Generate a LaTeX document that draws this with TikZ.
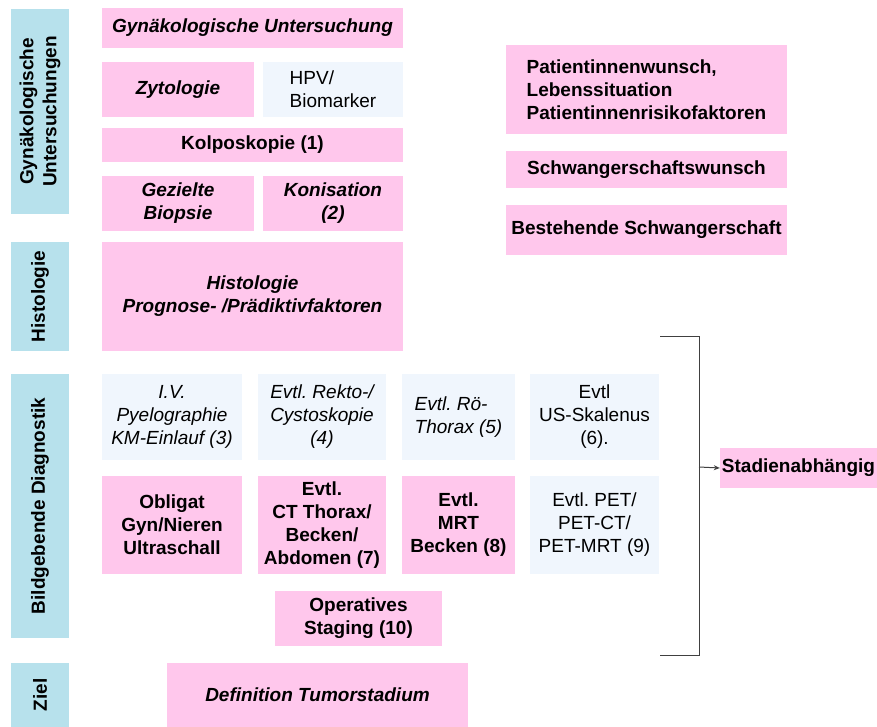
\documentclass[tikz,border=0pt]{standalone}
\usepackage{fontspec}
\setmainfont{Liberation Sans}
\usetikzlibrary{arrows.meta}

\definecolor{boxpink}{RGB}{255,199,236}
\definecolor{labblue}{RGB}{183,225,236}
\definecolor{paleblue}{RGB}{240,246,253}
\definecolor{brackgray}{RGB}{64,64,64}

\newcommand{\boxfont}{\fontsize{19}{23}\selectfont}
\frenchspacing

\tikzset{
	every node/.style={inner sep=0pt, align=center, font=\boxfont},
	dims/.style 2 args={minimum width=#1pt, minimum height=#2pt},
	pinkbox/.style={fill=boxpink},
	palebox/.style={fill=paleblue},
	sidelabel/.style={fill=labblue, rotate=90, font=\boxfont\bfseries},
	bfit/.style={font=\boxfont\bfseries\itshape},
	bfup/.style={font=\boxfont\bfseries},
	itup/.style={font=\boxfont\itshape},
	bracket/.style={draw=brackgray, line width=1pt},
}

\begin{document}
\begin{tikzpicture}[x=1pt, y=-1pt]
	\useasboundingbox (0, 0) rectangle (877, 727);

	% labels on the left
	\node[sidelabel, dims={205}{58}] (labgyn) at (40, 111.5) {Gynäkologische\\Untersuchungen};
	\node[sidelabel, dims={109}{58}] (labhisto) at (40, 296.5) {Histologie};
	\node[sidelabel, dims={264}{58}] (labbild) at (40, 506) {Bildgebende Diagnostik};
	\node[sidelabel, dims={64}{58}] (labziel) at (40, 695) {Ziel};

	% untersuchungen
	\node[pinkbox, bfit, dims={301}{40}] (gyn) at (252.5, 28) {Gynäkologische Untersuchung};
	\node[pinkbox, bfit, dims={152}{55}] (zyto) at (178, 89.5) {Zytologie};
	\node[palebox, dims={140}{55}, align=left] (hpv) at (333, 89.5) {HPV/\\Biomarker};
	\node[pinkbox, bfup, dims={301}{34}] (kolpo) at (252.5, 145) {Kolposkopie (1)};
	\node[pinkbox, bfit, dims={152}{55}] (biopsie) at (178, 203.5) {Gezielte\\Biopsie};
	\node[pinkbox, bfit, dims={140}{55}] (konis) at (333, 203.5) {Konisation\\(2)};
	\node[pinkbox, bfit, dims={301}{109}] (histo) at (252.5, 296.5) {Histologie\\Prognose- /Prädiktivfaktoren};

	% right column
	\node[pinkbox, bfup, dims={281}{89}, align=left] (patient) at (646.5, 89.5) {Patientinnenwunsch,\\Lebenssituation\\Patientinnenrisikofaktoren};
	\node[pinkbox, bfup, dims={281}{37}] (wunsch) at (646.5, 169.5) {Schwangerschaftswunsch};
	\node[pinkbox, bfup, dims={281}{50}] (schwanger) at (646.5, 230) {Bestehende Schwangerschaft};

	% bildgebende diagnostik
	\node[palebox, itup, dims={140}{86}] (ivp) at (172, 417) {I.V.\\Pyelographie\\KM-Einlauf (3)};
	\node[palebox, itup, dims={128}{86}] (rekto) at (322, 417) {Evtl. Rekto-/\\Cystoskopie\\(4)};
	\node[palebox, itup, dims={113}{86}, align=left] (roe) at (458.5, 417) {Evtl. Rö-\\Thorax (5)};
	\node[palebox, dims={129}{86}] (us) at (594.5, 417) {Evtl\\US-Skalenus\\(6).};

	\node[pinkbox, bfup, dims={140}{98}] (sono) at (172, 525) {Obligat\\Gyn/Nieren\\Ultraschall};
	\node[pinkbox, bfup, dims={128}{98}] (ct) at (322, 525) {Evtl.\\CT Thorax/\\Becken/\\Abdomen (7)};
	\node[pinkbox, bfup, dims={113}{98}] (mrt) at (458.5, 525) {Evtl.\\MRT\\Becken (8)};
	\node[palebox, dims={129}{98}] (pet) at (594.5, 525) {Evtl. PET/\\PET-CT/\\PET-MRT (9)};

	\node[pinkbox, bfup, dims={167}{55}] (opstaging) at (358.5, 618.5) {Operatives\\Staging (10)};

	% ziel
	\node[pinkbox, bfit, dims={301}{64}] (tumor) at (317.5, 695) {Definition Tumorstadium};

	% klammer
	\node[pinkbox, bfup, dims={157}{40}] (stadien) at (798.5, 468) {Stadienabhängig};
	\coordinate (brtop) at (660, 336);
	\coordinate (brbot) at (660, 655);
	\coordinate (brmid) at (699, 467);
	\draw[bracket] (brtop) -- ++(39, 0) |- (brbot);
	\draw[bracket, -{Stealth[length=6pt, width=5pt]}] (brmid) -- (stadien.west);
\end{tikzpicture}
\end{document}
